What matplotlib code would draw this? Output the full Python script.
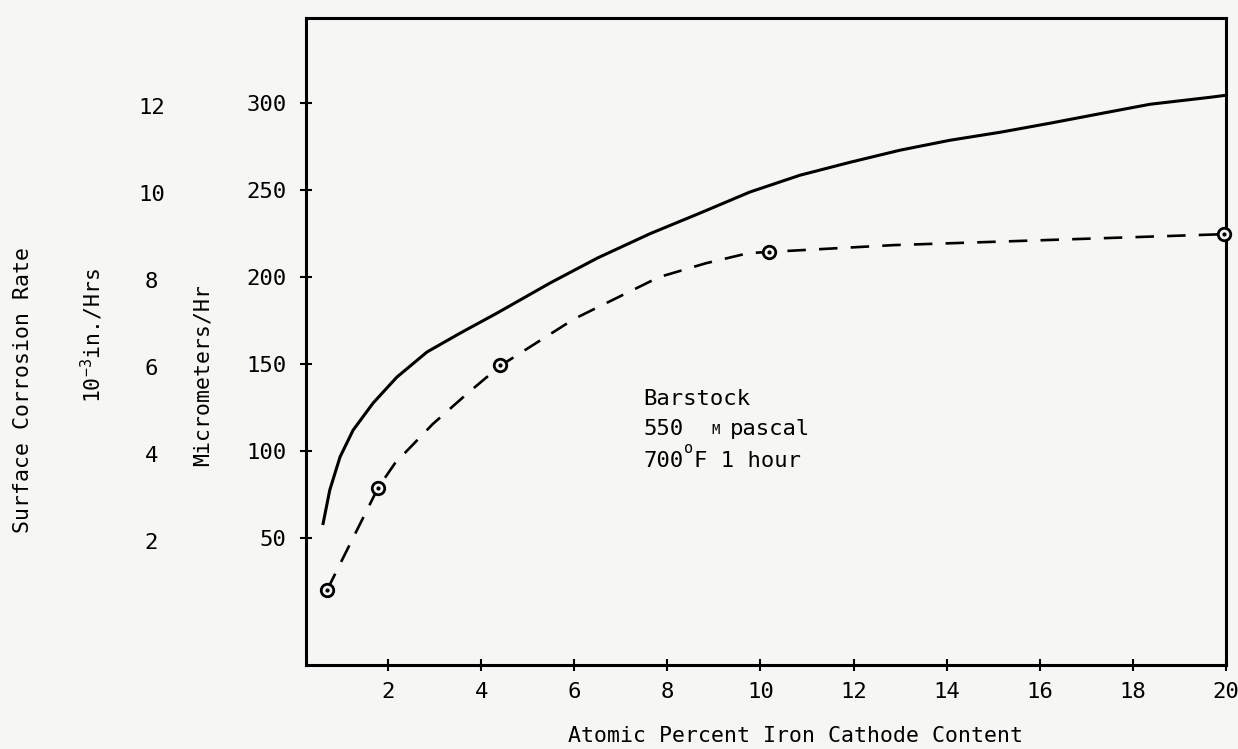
import numpy as np
import matplotlib
matplotlib.use('Agg')
import matplotlib.pyplot as plt

# values
solid_x = [0.60, 0.75, 0.97, 1.25, 1.68, 2.19, 2.84, 3.55, 4.34, 5.48, 6.5, 7.63,
           8.70, 9.77, 10.85, 11.92, 13.0, 14.07, 15.15, 16.22, 17.3, 18.37, 19.66, 19.98]
solid_y = [57.5, 77.6, 96.6, 112, 127.6, 142.5, 157, 167.8, 179.3, 196.6, 211, 225,
           236.8, 248.9, 258.6, 266, 273, 278.7, 283.3, 288.5, 294, 299.4, 303.4, 304.5]

dash_x = [0.69, 1.23, 1.79, 2.15, 2.96, 3.7, 4.41, 6.0, 7.82, 8.83, 9.74, 10.19, 12.85, 19.95]
dash_y = [20, 49, 79, 93, 115.5, 133, 149, 176, 200, 208, 213.8, 214.5, 218.4, 224.7]

meas_x = [0.69, 1.79, 4.41, 10.19, 19.95]
meas_y = [20, 78.7, 149.4, 214.5, 224.7]

x_ticks = [2, 4, 6, 8, 10, 12, 14, 16, 18, 20]
y_ticks = [50, 100, 150, 200, 250, 300]
inch_labels = ['2', '4', '6', '8', '10', '12']

plt.rcParams['font.family'] = 'DejaVu Sans Mono'
plt.rcParams['mathtext.fontset'] = 'custom'
plt.rcParams['mathtext.rm'] = 'DejaVu Sans Mono'
plt.rcParams['mathtext.it'] = 'DejaVu Sans Mono'

bg = '#f6f6f4'
fig = plt.figure(figsize=(12.38, 7.49), dpi=100, facecolor=bg)
ax = fig.add_axes([0.2472, 0.1121, 0.7431, 0.8639])
ax.set_facecolor(bg)

ax.plot(solid_x, solid_y, color='black', lw=2.2, solid_capstyle='butt')
ax.plot(dash_x, dash_y, color='black', lw=1.9, dashes=(7, 5))
ax.plot(meas_x, meas_y, 'o', ms=9, mfc=bg, mec='black', mew=2, clip_on=False, zorder=3)
ax.plot(meas_x, meas_y, 'o', ms=2, color='black', clip_on=False, zorder=4)

ax.set_xlim(0.24, 20.0)
ax.set_ylim(-23, 349)
ax.set_xticks(x_ticks)
ax.set_yticks(y_ticks)
ax.tick_params(direction='inout', length=8, width=1.5, labelsize=16, pad=8)
ax.tick_params(axis='y', pad=10)
for s in ax.spines.values():
    s.set_linewidth(2.2)

# second scale in 10^-3 in./Hrs, aligned with the micrometer ticks
for yv, lab in zip(y_ticks, inch_labels):
    ax.text(-0.168, yv - 3, lab, transform=ax.get_yaxis_transform(),
            ha='center', va='center', fontsize=16)

fig.text(796 / 1238, 1 - 736 / 749, 'Atomic Percent Iron Cathode Content',
         ha='center', va='center', fontsize=15.5)
fig.text(23 / 1238, 1 - 390 / 749, 'Surface Corrosion Rate', rotation=90,
         ha='center', va='center', fontsize=15.5)
fig.text(92 / 1238, 1 - 335 / 749, r'10$^{-3}$in./Hrs', rotation=90,
         ha='center', va='center', fontsize=15.5)
fig.text(203 / 1238, 1 - 375 / 749, 'Micrometers/Hr', rotation=90,
         ha='center', va='center', fontsize=15.5)

# annotation block
ax.text(7.49, 126.4, 'Barstock', fontsize=16, ha='left', va='baseline')
ax.text(7.49, 109.2, '550', fontsize=16, ha='left', va='baseline')
ax.text(8.95, 116, 'M', fontsize=10, ha='left', va='top')
ax.text(9.35, 109.2, 'pascal', fontsize=16, ha='left', va='baseline')
ax.text(7.49, 90.8, '700', fontsize=16, ha='left', va='baseline')
ax.text(8.36, 106, 'o', fontsize=11, ha='left', va='top')
ax.text(8.58, 90.8, 'F 1 hour', fontsize=16, ha='left', va='baseline')

fig.savefig('out.png', dpi=100, facecolor=bg)
